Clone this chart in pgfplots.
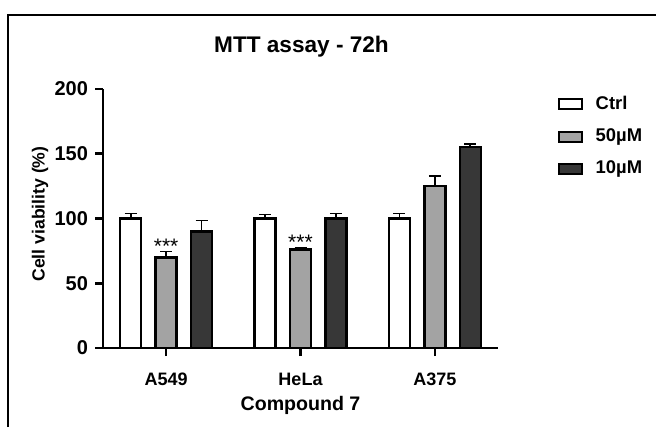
\documentclass[border=0pt]{standalone}
\usepackage{pgfplots}
\pgfplotsset{compat=1.18}
\usepackage{fontspec}
\setmainfont{Liberation Sans}
\definecolor{midgray}{RGB}{163,163,163}
\definecolor{darkbar}{RGB}{55,55,55}

% values (mean, upper error)
\pgfplotstableread{
x  ctrl  ctrlerr  c50   c50err  c10   c10err
0  100   4        70    4.5     90    8.5
1  100   3        76    1.5     100   4
2  100   4        125   8       155   2.5
}\mttdata

\begin{document}
\begin{tikzpicture}[x=0.5pt, y=0.5pt]
\useasboundingbox (0,0) rectangle (656,427);
% outer frame (only top and left visible)
\draw[line width=0.6pt] (8,0) -- (8,412) -- (660,412);
\node[font=\fontsize{11.3}{13}\selectfont\bfseries] at (301.5,380) {MTT assay - 72h};
\begin{axis}[
  at={(51.5pt,39.5pt)}, anchor=south west,
  scale only axis,
  width=197.5pt, height=129.5pt,
  ybar=7.2pt, bar width=10.5pt,
  xmin=-0.47, xmax=2.47,
  ymin=0, ymax=200,
  xtick={0,1,2}, xticklabels={A549,HeLa,A375},
  ytick={0,50,100,150,200},
  axis x line*=bottom, axis y line*=left,
  every outer x axis line/.append style={-},
  every outer y axis line/.append style={-},
  axis line style={line width=1.3pt, -},
  tick style={line width=1.3pt, black},
  tick align=outside, major tick length=4pt,
  /pgf/number format/assume math mode=true,
  yticklabel style={font=\fontsize{10}{11}\selectfont\bfseries},
  xticklabel style={font=\fontsize{9}{10}\selectfont\bfseries, yshift=-5pt},
  xlabel={Compound 7}, ylabel={Cell viability (\%)},
  xlabel style={font=\fontsize{9.8}{12}\selectfont\bfseries,
    at={(axis description cs:0.5,-0.222)}, anchor=center},
  ylabel style={font=\fontsize{8.8}{10}\selectfont\bfseries,
    at={(axis description cs:-0.159,0.517)}, anchor=center, rotate=0},
  every axis plot/.append style={draw=black, line width=1.2pt,
    error bars/y dir=plus, error bars/y explicit,
    error bars/error bar style={line width=0.8pt, black},
    error bars/error mark options={rotate=90, mark size=3pt, line width=0.8pt, black}},
  legend style={at={(1.135,1.005)}, anchor=north west, draw=none, fill=none,
    font=\fontsize{9.2}{11}\selectfont\bfseries,
    row sep=4.2pt, column sep=4.5pt},
  legend cell align=left,
  legend image code/.code={\draw[#1, line width=1pt] (0pt,-2.6pt) rectangle (11.5pt,2.6pt);},
]
\addplot[fill=white] table[x=x, y=ctrl, y error=ctrlerr] {\mttdata};
\addplot[fill=midgray] table[x=x, y=c50, y error=c50err] {\mttdata};
\addplot[fill=darkbar] table[x=x, y=c10, y error=c10err] {\mttdata};
\legend{Ctrl, 50µM, 10µM}
\node[font=\fontsize{10.5}{11}\selectfont] at (axis cs:0,78.5) {***};
\node[font=\fontsize{10.5}{11}\selectfont] at (axis cs:1,81.5) {***};
\end{axis}
\end{tikzpicture}
\end{document}
